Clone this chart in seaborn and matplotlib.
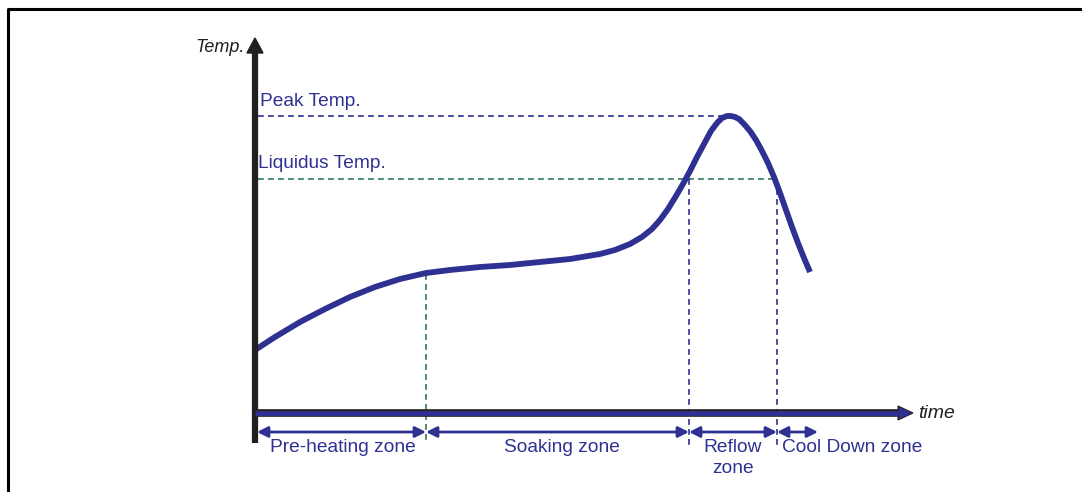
import numpy as np
import pandas as pd
import matplotlib
matplotlib.use("Agg")
import matplotlib.pyplot as plt
import seaborn as sns

# reflow profile (x = time, y = temperature, screen units, y down)
curve_t = [255, 275, 300, 325, 350, 375, 400, 426, 450, 480, 510, 540, 570, 600,
           615, 630, 642, 652, 660, 668, 676, 683, 690, 697, 704, 711, 717, 722,
           727, 731, 735, 739, 744, 750, 756, 762, 768, 774, 780, 786, 792, 798,
           804, 810]
curve_temp = [350, 337, 322, 309, 297, 287, 279, 273, 270, 267, 265, 262, 259, 254,
              250, 244, 237, 229, 220, 209, 196, 184, 171, 157, 144, 131, 123, 118,
              116, 116, 117, 119, 124, 131, 140, 151, 163, 177, 193, 210, 227, 243,
              258, 272]

peak_y = 116
peak_x = 729
liquidus_y = 179
liquidus_x = [689, 777]
zone_edges = [257, 426, 689, 777, 818]
zone_labels = ["Pre-heating zone", "Soaking zone", "Reflow\nzone", "Cool Down zone"]

NAVY = "#2e3192"
GREEN = "#2f7a55"

sns.set_theme(style="white")
plt.rcParams["font.family"] = ["Liberation Sans", "DejaVu Sans"]

fig = plt.figure(figsize=(10.82, 4.92), dpi=100)
ax = fig.add_axes([0, 0, 1, 1])
ax.set_xlim(0, 1082)
ax.set_ylim(492, 0)
ax.axis("off")

# frame
ax.plot([8, 8, 1082], [492, 9, 9], color="black", lw=2.2, solid_capstyle="butt")

# dashed reference lines
dash = (0, (3.5, 2.5))
ax.plot([258, peak_x], [peak_y, peak_y], color=NAVY, lw=1.2, ls=dash)
ax.plot([258, liquidus_x[1]], [liquidus_y, liquidus_y], color=GREEN, lw=1.2, ls=dash)
ax.plot([426, 426], [274, 442], color=GREEN, lw=1.2, ls=dash)
for x in liquidus_x:
    ax.plot([x, x], [liquidus_y, 445], color=NAVY, lw=1.2, ls=dash)

# profile curve
df = pd.DataFrame({"t": curve_t, "temp": curve_temp})
sns.lineplot(data=df, x="t", y="temp", sort=False, color=NAVY, lw=4.2, ax=ax,
             solid_capstyle="butt")

# y axis with arrow
ax.plot([255, 255], [443, 52], color="#231f20", lw=4.5, solid_capstyle="butt")
ax.fill([247, 255, 263], [53, 38, 53], color="#231f20")
ax.text(245, 47, "Temp.", style="italic", fontsize=13, ha="right", va="center",
        color="#231f20")

# x axis with arrow
ax.plot([255, 898], [413, 413], color="#231f20", lw=5.5, solid_capstyle="butt")
ax.plot([255, 898], [413, 413], color=NAVY, lw=3.5, solid_capstyle="butt")
ax.fill([898, 913, 898], [406, 413, 420], color=NAVY, ec="#231f20", lw=0.8)
ax.text(918, 413, "time", style="italic", fontsize=14, ha="left", va="center",
        color="#231f20")

# zone arrows
for a, b in zip(zone_edges[:-1], zone_edges[1:]):
    ax.annotate("", xy=(a, 432), xytext=(b, 432),
                arrowprops=dict(arrowstyle="<|-|>", color=NAVY, lw=2,
                                mutation_scale=16, shrinkA=0, shrinkB=0))

fs = 13.8
ax.text(343, 448, zone_labels[0], fontsize=fs, color=NAVY, ha="center", va="center")
ax.text(562, 447, zone_labels[1], fontsize=fs, color=NAVY, ha="center", va="center")
ax.text(733, 458, zone_labels[2], fontsize=fs, color=NAVY, ha="center", va="center",
        linespacing=1.3)
ax.text(782, 448, zone_labels[3], fontsize=fs, color=NAVY, ha="left", va="center")

ax.text(260, 102, "Peak Temp.", fontsize=fs, color=NAVY, ha="left", va="center")
ax.text(258, 164, "Liquidus Temp.", fontsize=fs, color=NAVY, ha="left", va="center")

fig.savefig("out.png", dpi=100)
